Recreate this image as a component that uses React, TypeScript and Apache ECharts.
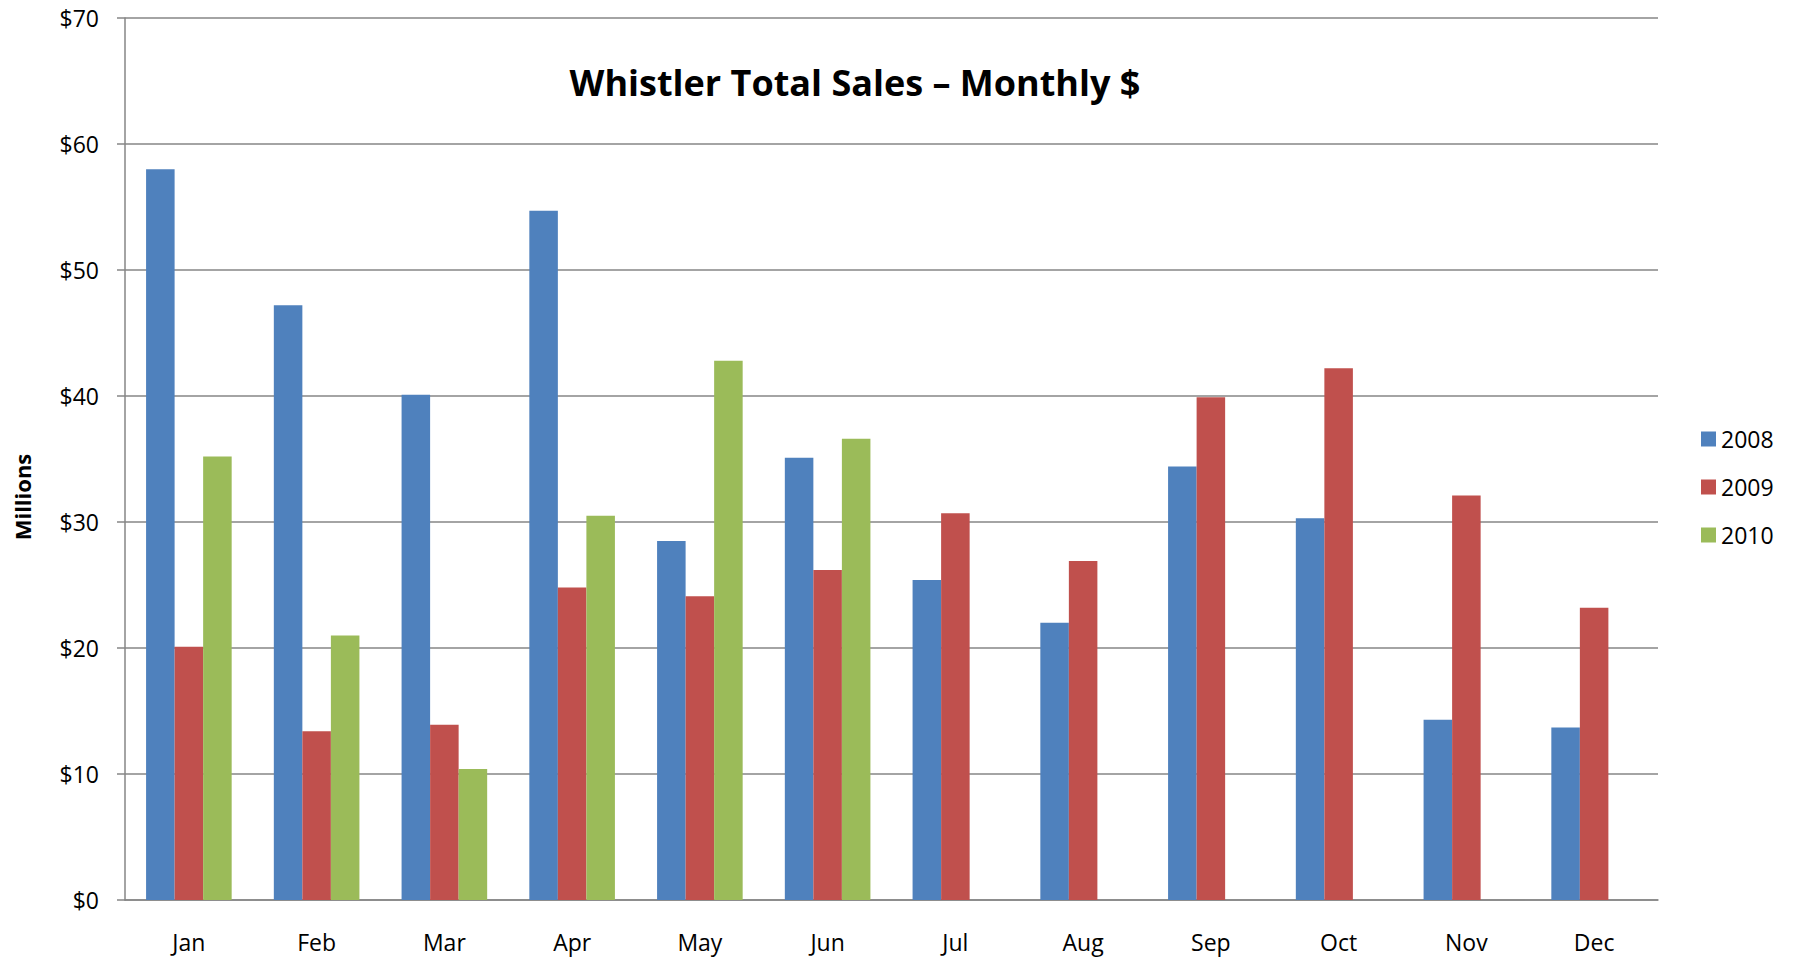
import React, { useEffect, useRef } from "react";
import * as echarts from "echarts";

const months = ["Jan", "Feb", "Mar", "Apr", "May", "Jun", "Jul", "Aug", "Sep", "Oct", "Nov", "Dec"];
const sales2008 = [58.0, 47.2, 40.1, 54.7, 28.5, 35.1, 25.4, 22.0, 34.4, 30.3, 14.3, 13.7];
const sales2009 = [20.1, 13.4, 13.9, 24.8, 24.1, 26.2, 30.7, 26.9, 39.9, 42.2, 32.1, 23.2];
const sales2010 = [35.2, 21.0, 10.4, 30.5, 42.8, 36.6, null, null, null, null, null, null];
const seriesNames = ["2008", "2009", "2010"];
const colors = ["#4F81BD", "#C0504D", "#9BBB59"];
const titleText = "Whistler Total Sales \u2013 Monthly $";
const yAxisTitle = "Millions";

const FONT = "'Open Sans', 'Noto Sans', sans-serif";
const GRAY = "#868686";

export default function App() {
  const ref = useRef<HTMLDivElement>(null);
  useEffect(() => {
    if (!ref.current) return;
    const chart = echarts.init(ref.current, null, { renderer: "svg" });
    const data = [sales2008, sales2009, sales2010];
    chart.setOption({
      animation: false,
      backgroundColor: "#ffffff",
      title: {
        text: titleText,
        left: 850,
        top: 59,
        textAlign: "center",
        textStyle: { fontFamily: FONT, fontWeight: "bold", fontSize: 36, color: "#000" },
      },
      legend: {
        orient: "vertical",
        left: 1701,
        top: 427,
        padding: 0,
        itemWidth: 15,
        itemHeight: 15,
        itemGap: 24,
        icon: "rect",
        data: seriesNames,
        textStyle: { fontFamily: FONT, fontSize: 23, color: "#000", lineHeight: 24 },
      },
      grid: { left: 125, right: 135, top: 18, bottom: 57, containLabel: false },
      xAxis: {
        type: "category",
        data: months,
        axisLine: { lineStyle: { color: GRAY, width: 1.5 } },
        axisTick: { length: 8, lineStyle: { color: GRAY, width: 1.5 } },
        axisLabel: { fontFamily: FONT, fontSize: 23, color: "#000", margin: 30 },
      },
      yAxis: {
        type: "value",
        min: 0,
        max: 70,
        interval: 10,
        axisLine: { show: true, lineStyle: { color: GRAY, width: 1.5 } },
        axisTick: { show: true, length: 8, lineStyle: { color: GRAY, width: 1.5 } },
        axisLabel: { fontFamily: FONT, fontSize: 23, color: "#000", margin: 26, formatter: "${value}" },
        splitLine: { show: true, lineStyle: { color: GRAY, width: 1.5 } },
      },
      graphic: [
        {
          type: "text",
          x: 22,
          y: 497,
          rotation: Math.PI / 2,
          style: {
            text: yAxisTitle,
            fontFamily: FONT,
            fontWeight: "bold",
            fontSize: 22,
            fill: "#000",
            textAlign: "center",
            textVerticalAlign: "middle",
          },
        },
      ],
      series: seriesNames.map((name, i) => ({
        name,
        type: "bar",
        data: data[i],
        barGap: "0%",
        barCategoryGap: "33%",
        itemStyle: { color: colors[i] },
      })),
    });
    return () => chart.dispose();
  }, []);
  return (
    <div
      ref={ref}
      style={{ position: "fixed", left: 0, top: 0, width: 1793, height: 957 }}
    />
  );
}
